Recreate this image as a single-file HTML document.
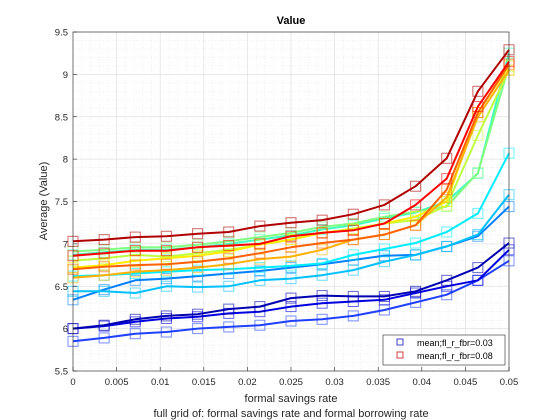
<!DOCTYPE html>
<html><head><meta charset="utf-8"><style>
body{margin:0;background:#fff;}
svg{display:block;font-family:"Liberation Sans",sans-serif;}
</style></head><body>
<svg id="chart" width="560" height="420" viewBox="0 0 560 420">
<rect x="0" y="0" width="560" height="420" fill="#ffffff"/>
<rect x="73" y="32" width="436" height="339" fill="#ffffff"/>
<g id="grid"></g>
<g id="series"></g>
<g id="axes"></g>
<text x="291" y="24" text-anchor="middle" font-size="11" font-weight="bold" fill="#000">Value</text>
<text x="291" y="402" text-anchor="middle" font-size="11" fill="#262626">formal savings rate</text>
<text x="291" y="417" text-anchor="middle" font-size="11" fill="#262626">full grid of: formal savings rate and formal borrowing rate</text>
<text transform="translate(47,201) rotate(-90)" text-anchor="middle" font-size="11" fill="#262626">Average (Value)</text>
<g>
<rect x="383" y="335" width="122" height="30" fill="#fff" stroke="#262626" stroke-width="0.6"/>
<rect x="397" y="339" width="6" height="6" fill="none" stroke="#4040d0"/>
<text x="417" y="346" font-size="9" fill="#000">mean;fl_r_fbr=0.03</text>
<rect x="397" y="352" width="6" height="6" fill="none" stroke="#d04040"/>
<text x="417" y="359" font-size="9" fill="#000">mean;fl_r_fbr=0.08</text>
</g>
</svg>
<script>
const xValues = [0,0.00357,0.00714,0.01071,0.01429,0.01786,0.02143,0.025,0.02857,0.03214,0.03571,0.03929,0.04286,0.04643,0.05];
const yTicks = [5.5,6,6.5,7,7.5,8,8.5,9,9.5];
const yTickLabels = ["5.5","6","6.5","7","7.5","8","8.5","9","9.5"];
const xTicks = [0,0.005,0.01,0.015,0.02,0.025,0.03,0.035,0.04,0.045,0.05];
const xTickLabels = ["0","0.005","0.01","0.015","0.02","0.025","0.03","0.035","0.04","0.045","0.05"];
const seriesColors = ["#2040ff","#0000e0","#0000b0","#0080ff","#00c0ff","#00eeff","#40ffc0","#80ff80","#c0ff40","#ffee00","#ffb000","#ff6000","#ff0000","#b00000"];
const s1 = [5.85,5.89,5.94,5.96,6.0,6.02,6.04,6.09,6.11,6.15,6.22,6.31,6.40,6.57,6.80];
const s2 = [6.0,6.03,6.08,6.12,6.14,6.18,6.2,6.26,6.3,6.32,6.34,6.42,6.5,6.57,6.93];
const s3 = [6.0,6.04,6.11,6.15,6.17,6.23,6.26,6.36,6.39,6.38,6.38,6.44,6.57,6.72,7.01];
const s4 = [6.34,6.46,6.57,6.59,6.62,6.65,6.68,6.72,6.76,6.81,6.86,6.87,6.97,7.09,7.44];
const s5 = [6.44,6.44,6.42,6.5,6.49,6.5,6.57,6.59,6.63,6.69,6.79,6.87,6.97,7.11,7.58];
const s6 = [6.62,6.63,6.65,6.67,6.69,6.7,6.72,6.74,6.77,6.87,6.94,7.01,7.14,7.36,8.07];
const s7 = [6.87,6.9,6.93,6.93,6.96,7.0,7.05,7.1,7.17,7.22,7.3,7.37,7.5,7.83,9.25];
const s8 = [6.91,6.93,6.96,6.96,6.99,7.03,7.08,7.13,7.2,7.24,7.32,7.38,7.44,7.84,9.1];
const s9 = [6.8,6.83,6.87,6.85,6.89,6.93,6.99,7.05,7.13,7.18,7.24,7.28,7.45,8.28,9.05];
const s10 = [6.72,6.75,6.8,6.83,6.86,6.91,6.99,7.05,7.13,7.17,7.24,7.32,7.5,8.55,9.1];
const s11 = [6.6,6.63,6.67,6.69,6.72,6.76,6.82,6.85,6.93,7.05,7.11,7.22,7.55,8.5,9.05];
const s12 = [6.7,6.73,6.75,6.76,6.79,6.83,6.89,6.96,7.01,7.05,7.11,7.22,7.64,8.55,9.12];
const s13 = [6.86,6.89,6.92,6.92,6.96,6.98,7.0,7.09,7.13,7.16,7.24,7.46,7.77,8.62,9.15];
const s14 = [7.03,7.05,7.08,7.09,7.12,7.14,7.21,7.25,7.28,7.35,7.46,7.68,8.01,8.8,9.29];
const allSeries = [s1,s2,s3,s4,s5,s6,s7,s8,s9,s10,s11,s12,s13,s14];

const NS = "http://www.w3.org/2000/svg";
const X0=73, X1=509, Y0=371, Y1=32;
function xs(v){return X0+(v-0)/(0.05-0)*(X1-X0);}
function ys(v){return Y0-(v-5.5)/(9.5-5.5)*(Y0-Y1);}
function mk(tag, attrs){const e=document.createElementNS(NS,tag);for(const k in attrs)e.setAttribute(k,attrs[k]);return e;}
const grid=document.getElementById('grid'), axes=document.getElementById('axes'), ser=document.getElementById('series');

for(let i=1;i<50;i++){
  if(i%5===0) continue;
  const x=xs(i*0.001);
  const l=mk('line',{x1:x,x2:x,y1:Y1,y2:Y0,stroke:'#e6e6e6','stroke-width':0.6,'stroke-dasharray':'1,2'});
  
  
  grid.appendChild(l);
}
for(let i=1;i<40;i++){
  if(i%5===0) continue;
  const y=ys(5.5+i*0.1);
  const l=mk('line',{x1:X0,x2:X1,y1:y,y2:y,stroke:'#e6e6e6','stroke-width':0.6,'stroke-dasharray':'1,2'});
  
  
  grid.appendChild(l);
}
xTicks.forEach((t,i)=>{
  const x=xs(t);
  const l=mk('line',{x1:x,x2:x,y1:Y1,y2:Y0,stroke:'#e0e0e0','stroke-width':0.7});
  
  
  grid.appendChild(l);
  const tk=mk('line',{x1:x,x2:x,y1:Y0,y2:Y0-4,stroke:'#262626','stroke-width':0.6});
  
  
  axes.appendChild(tk);
  const tx=mk('text',{x:x,y:Y0+14,'text-anchor':'middle','font-size':9.5,fill:'#262626'});
  tx.textContent=xTickLabels[i];
  
  
  axes.appendChild(tx);
});
yTicks.forEach((t,i)=>{
  const y=ys(t);
  const l=mk('line',{x1:X0,x2:X1,y1:y,y2:y,stroke:'#e0e0e0','stroke-width':0.7});
  
  
  grid.appendChild(l);
  const tk=mk('line',{x1:X0,x2:X0+4,y1:y,y2:y,stroke:'#262626','stroke-width':0.6});
  
  
  axes.appendChild(tk);
  const tx=mk('text',{x:X0-5,y:y+3.5,'text-anchor':'end','font-size':9.5,fill:'#262626'});
  tx.textContent=yTickLabels[i];
  
  
  axes.appendChild(tx);
});
const box=mk('rect',{x:X0,y:Y1,width:X1-X0,height:Y0-Y1,fill:'none',stroke:'#262626','stroke-width':0.6});


axes.appendChild(box);

allSeries.forEach((vals,si)=>{
  const c=seriesColors[si];
  const g=mk('g',{});
  
  
  const pts=vals.map((v,i)=>xs(xValues[i]).toFixed(1)+','+ys(v).toFixed(1)).join(' ');
  const pl=mk('polyline',{points:pts,fill:'none',stroke:c,'stroke-width':2,'stroke-linejoin':'round'});
  
  
  g.appendChild(pl);
  vals.forEach((v,i)=>{
    const r=mk('rect',{x:xs(xValues[i])-5,y:ys(v)-5,width:10,height:10,fill:'none',stroke:c,'stroke-width':1,'stroke-opacity':0.6});
    
    
    g.appendChild(r);
  });
  ser.appendChild(g);
});
</script>
</body></html>
